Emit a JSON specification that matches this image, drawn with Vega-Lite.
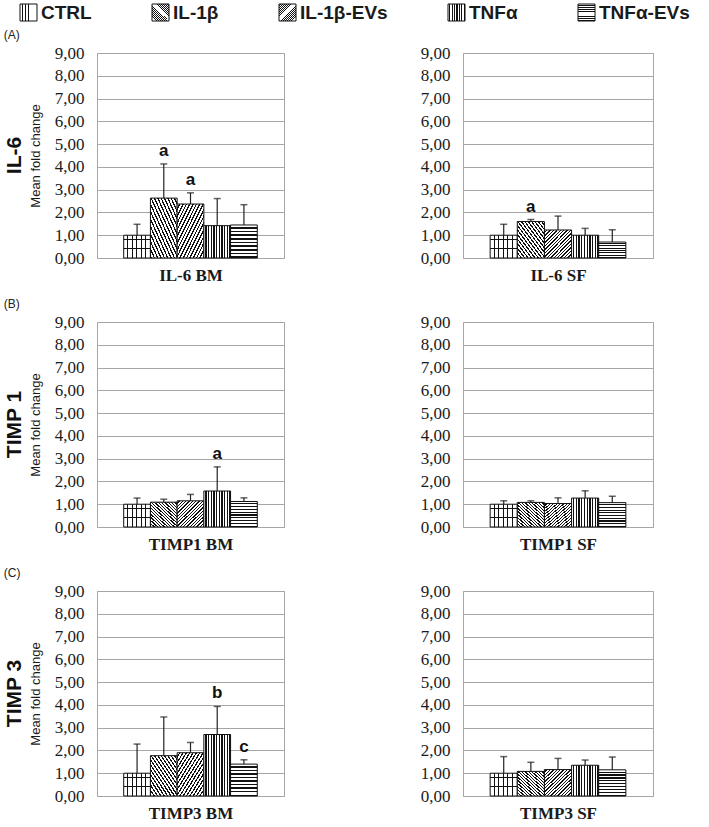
{
  "$schema": "https://vega.github.io/schema/vega-lite/v6.json",
  "padding": {"left": 3, "right": 3, "top": 3, "bottom": 3},
  "background": "white",
  "params": [
    {"name": "pCTRL", "value": {"gradient": "linear", "x1": 0, "y1": 0, "x2": 1, "y2": 0, "stops": [
      {"offset": 0, "color": "#fff"}, {"offset": 0.135, "color": "#fff"}, {"offset": 0.135, "color": "#111"}, {"offset": 0.1667, "color": "#111"},
      {"offset": 0.1667, "color": "#fff"}, {"offset": 0.3017, "color": "#fff"}, {"offset": 0.3017, "color": "#111"}, {"offset": 0.3333, "color": "#111"},
      {"offset": 0.3333, "color": "#fff"}, {"offset": 0.4683, "color": "#fff"}, {"offset": 0.4683, "color": "#111"}, {"offset": 0.5, "color": "#111"},
      {"offset": 0.5, "color": "#fff"}, {"offset": 0.635, "color": "#fff"}, {"offset": 0.635, "color": "#111"}, {"offset": 0.6667, "color": "#111"},
      {"offset": 0.6667, "color": "#fff"}, {"offset": 0.8017, "color": "#fff"}, {"offset": 0.8017, "color": "#111"}, {"offset": 0.8333, "color": "#111"},
      {"offset": 0.8333, "color": "#fff"}, {"offset": 1, "color": "#fff"}]}},
    {"name": "pGRID", "value": {"gradient": "linear", "x1": 0, "y1": 0, "x2": 0, "y2": 1, "stops": [
      {"offset": 0, "color": "rgba(0,0,0,0)"}, {"offset": 0.165, "color": "rgba(0,0,0,0)"}, {"offset": 0.165, "color": "#111"}, {"offset": 0.2, "color": "#111"},
      {"offset": 0.2, "color": "rgba(0,0,0,0)"}, {"offset": 0.365, "color": "rgba(0,0,0,0)"}, {"offset": 0.365, "color": "#111"}, {"offset": 0.4, "color": "#111"},
      {"offset": 0.4, "color": "rgba(0,0,0,0)"}, {"offset": 0.565, "color": "rgba(0,0,0,0)"}, {"offset": 0.565, "color": "#111"}, {"offset": 0.6, "color": "#111"},
      {"offset": 0.6, "color": "rgba(0,0,0,0)"}, {"offset": 0.765, "color": "rgba(0,0,0,0)"}, {"offset": 0.765, "color": "#111"}, {"offset": 0.8, "color": "#111"},
      {"offset": 0.8, "color": "rgba(0,0,0,0)"}, {"offset": 1, "color": "rgba(0,0,0,0)"}]}},
    {"name": "pIL", "value": {"gradient": "linear", "x1": 1, "y1": 0, "x2": 0, "y2": 1, "stops": [
      {"offset": 0, "color": "#fff"}, {"offset": 0.037, "color": "#fff"}, {"offset": 0.037, "color": "#111"}, {"offset": 0.0625, "color": "#111"},
      {"offset": 0.0625, "color": "#fff"}, {"offset": 0.0995, "color": "#fff"}, {"offset": 0.0995, "color": "#111"}, {"offset": 0.125, "color": "#111"},
      {"offset": 0.125, "color": "#fff"}, {"offset": 0.162, "color": "#fff"}, {"offset": 0.162, "color": "#111"}, {"offset": 0.1875, "color": "#111"},
      {"offset": 0.1875, "color": "#fff"}, {"offset": 0.2245, "color": "#fff"}, {"offset": 0.2245, "color": "#111"}, {"offset": 0.25, "color": "#111"},
      {"offset": 0.25, "color": "#fff"}, {"offset": 0.287, "color": "#fff"}, {"offset": 0.287, "color": "#111"}, {"offset": 0.3125, "color": "#111"},
      {"offset": 0.3125, "color": "#fff"}, {"offset": 0.3495, "color": "#fff"}, {"offset": 0.3495, "color": "#111"}, {"offset": 0.375, "color": "#111"},
      {"offset": 0.375, "color": "#fff"}, {"offset": 0.412, "color": "#fff"}, {"offset": 0.412, "color": "#111"}, {"offset": 0.4375, "color": "#111"},
      {"offset": 0.4375, "color": "#fff"}, {"offset": 0.4745, "color": "#fff"}, {"offset": 0.4745, "color": "#111"}, {"offset": 0.5, "color": "#111"},
      {"offset": 0.5, "color": "#fff"}, {"offset": 0.537, "color": "#fff"}, {"offset": 0.537, "color": "#111"}, {"offset": 0.5625, "color": "#111"},
      {"offset": 0.5625, "color": "#fff"}, {"offset": 0.5995, "color": "#fff"}, {"offset": 0.5995, "color": "#111"}, {"offset": 0.625, "color": "#111"},
      {"offset": 0.625, "color": "#fff"}, {"offset": 0.662, "color": "#fff"}, {"offset": 0.662, "color": "#111"}, {"offset": 0.6875, "color": "#111"},
      {"offset": 0.6875, "color": "#fff"}, {"offset": 0.7245, "color": "#fff"}, {"offset": 0.7245, "color": "#111"}, {"offset": 0.75, "color": "#111"},
      {"offset": 0.75, "color": "#fff"}, {"offset": 0.787, "color": "#fff"}, {"offset": 0.787, "color": "#111"}, {"offset": 0.8125, "color": "#111"},
      {"offset": 0.8125, "color": "#fff"}, {"offset": 0.8495, "color": "#fff"}, {"offset": 0.8495, "color": "#111"}, {"offset": 0.875, "color": "#111"},
      {"offset": 0.875, "color": "#fff"}, {"offset": 0.912, "color": "#fff"}, {"offset": 0.912, "color": "#111"}, {"offset": 0.9375, "color": "#111"},
      {"offset": 0.9375, "color": "#fff"}, {"offset": 0.9745, "color": "#fff"}, {"offset": 0.9745, "color": "#111"}, {"offset": 1, "color": "#111"}]}},
    {"name": "pILEV", "value": {"gradient": "linear", "x1": 0, "y1": 0, "x2": 1, "y2": 1, "stops": [
      {"offset": 0, "color": "#fff"}, {"offset": 0.037, "color": "#fff"}, {"offset": 0.037, "color": "#111"}, {"offset": 0.0625, "color": "#111"},
      {"offset": 0.0625, "color": "#fff"}, {"offset": 0.0995, "color": "#fff"}, {"offset": 0.0995, "color": "#111"}, {"offset": 0.125, "color": "#111"},
      {"offset": 0.125, "color": "#fff"}, {"offset": 0.162, "color": "#fff"}, {"offset": 0.162, "color": "#111"}, {"offset": 0.1875, "color": "#111"},
      {"offset": 0.1875, "color": "#fff"}, {"offset": 0.2245, "color": "#fff"}, {"offset": 0.2245, "color": "#111"}, {"offset": 0.25, "color": "#111"},
      {"offset": 0.25, "color": "#fff"}, {"offset": 0.287, "color": "#fff"}, {"offset": 0.287, "color": "#111"}, {"offset": 0.3125, "color": "#111"},
      {"offset": 0.3125, "color": "#fff"}, {"offset": 0.3495, "color": "#fff"}, {"offset": 0.3495, "color": "#111"}, {"offset": 0.375, "color": "#111"},
      {"offset": 0.375, "color": "#fff"}, {"offset": 0.412, "color": "#fff"}, {"offset": 0.412, "color": "#111"}, {"offset": 0.4375, "color": "#111"},
      {"offset": 0.4375, "color": "#fff"}, {"offset": 0.4745, "color": "#fff"}, {"offset": 0.4745, "color": "#111"}, {"offset": 0.5, "color": "#111"},
      {"offset": 0.5, "color": "#fff"}, {"offset": 0.537, "color": "#fff"}, {"offset": 0.537, "color": "#111"}, {"offset": 0.5625, "color": "#111"},
      {"offset": 0.5625, "color": "#fff"}, {"offset": 0.5995, "color": "#fff"}, {"offset": 0.5995, "color": "#111"}, {"offset": 0.625, "color": "#111"},
      {"offset": 0.625, "color": "#fff"}, {"offset": 0.662, "color": "#fff"}, {"offset": 0.662, "color": "#111"}, {"offset": 0.6875, "color": "#111"},
      {"offset": 0.6875, "color": "#fff"}, {"offset": 0.7245, "color": "#fff"}, {"offset": 0.7245, "color": "#111"}, {"offset": 0.75, "color": "#111"},
      {"offset": 0.75, "color": "#fff"}, {"offset": 0.787, "color": "#fff"}, {"offset": 0.787, "color": "#111"}, {"offset": 0.8125, "color": "#111"},
      {"offset": 0.8125, "color": "#fff"}, {"offset": 0.8495, "color": "#fff"}, {"offset": 0.8495, "color": "#111"}, {"offset": 0.875, "color": "#111"},
      {"offset": 0.875, "color": "#fff"}, {"offset": 0.912, "color": "#fff"}, {"offset": 0.912, "color": "#111"}, {"offset": 0.9375, "color": "#111"},
      {"offset": 0.9375, "color": "#fff"}, {"offset": 0.9745, "color": "#fff"}, {"offset": 0.9745, "color": "#111"}, {"offset": 1, "color": "#111"}]}},
    {"name": "pTNF", "value": {"gradient": "linear", "x1": 0, "y1": 0, "x2": 1, "y2": 0, "stops": [
      {"offset": 0, "color": "#fff"}, {"offset": 0.055, "color": "#fff"}, {"offset": 0.055, "color": "#111"}, {"offset": 0.1, "color": "#111"},
      {"offset": 0.1, "color": "#fff"}, {"offset": 0.155, "color": "#fff"}, {"offset": 0.155, "color": "#111"}, {"offset": 0.2, "color": "#111"},
      {"offset": 0.2, "color": "#fff"}, {"offset": 0.255, "color": "#fff"}, {"offset": 0.255, "color": "#111"}, {"offset": 0.3, "color": "#111"},
      {"offset": 0.3, "color": "#fff"}, {"offset": 0.355, "color": "#fff"}, {"offset": 0.355, "color": "#111"}, {"offset": 0.4, "color": "#111"},
      {"offset": 0.4, "color": "#fff"}, {"offset": 0.455, "color": "#fff"}, {"offset": 0.455, "color": "#111"}, {"offset": 0.5, "color": "#111"},
      {"offset": 0.5, "color": "#fff"}, {"offset": 0.555, "color": "#fff"}, {"offset": 0.555, "color": "#111"}, {"offset": 0.6, "color": "#111"},
      {"offset": 0.6, "color": "#fff"}, {"offset": 0.655, "color": "#fff"}, {"offset": 0.655, "color": "#111"}, {"offset": 0.7, "color": "#111"},
      {"offset": 0.7, "color": "#fff"}, {"offset": 0.755, "color": "#fff"}, {"offset": 0.755, "color": "#111"}, {"offset": 0.8, "color": "#111"},
      {"offset": 0.8, "color": "#fff"}, {"offset": 0.855, "color": "#fff"}, {"offset": 0.855, "color": "#111"}, {"offset": 0.9, "color": "#111"},
      {"offset": 0.9, "color": "#fff"}, {"offset": 0.955, "color": "#fff"}, {"offset": 0.955, "color": "#111"}, {"offset": 1, "color": "#111"}]}},
    {"name": "pTNFEV", "value": {"gradient": "linear", "x1": 0, "y1": 0, "x2": 0, "y2": 1, "stops": [
      {"offset": 0, "color": "#fff"}, {"offset": 0.065, "color": "#fff"}, {"offset": 0.065, "color": "#111"}, {"offset": 0.1111, "color": "#111"},
      {"offset": 0.1111, "color": "#fff"}, {"offset": 0.1761, "color": "#fff"}, {"offset": 0.1761, "color": "#111"}, {"offset": 0.2222, "color": "#111"},
      {"offset": 0.2222, "color": "#fff"}, {"offset": 0.2872, "color": "#fff"}, {"offset": 0.2872, "color": "#111"}, {"offset": 0.3333, "color": "#111"},
      {"offset": 0.3333, "color": "#fff"}, {"offset": 0.3983, "color": "#fff"}, {"offset": 0.3983, "color": "#111"}, {"offset": 0.4444, "color": "#111"},
      {"offset": 0.4444, "color": "#fff"}, {"offset": 0.5094, "color": "#fff"}, {"offset": 0.5094, "color": "#111"}, {"offset": 0.5556, "color": "#111"},
      {"offset": 0.5556, "color": "#fff"}, {"offset": 0.6206, "color": "#fff"}, {"offset": 0.6206, "color": "#111"}, {"offset": 0.6667, "color": "#111"},
      {"offset": 0.6667, "color": "#fff"}, {"offset": 0.7317, "color": "#fff"}, {"offset": 0.7317, "color": "#111"}, {"offset": 0.7778, "color": "#111"},
      {"offset": 0.7778, "color": "#fff"}, {"offset": 0.8428, "color": "#fff"}, {"offset": 0.8428, "color": "#111"}, {"offset": 0.8889, "color": "#111"},
      {"offset": 0.8889, "color": "#fff"}, {"offset": 0.9539, "color": "#fff"}, {"offset": 0.9539, "color": "#111"}, {"offset": 1, "color": "#111"}]}}
  ],
  "datasets": {
    "d": [
      {"panel": "IL-6 BM", "group": "CTRL", "mean": 1.0, "top": 1.48, "letter": ""},
      {"panel": "IL-6 BM", "group": "IL-1β", "mean": 2.63, "top": 4.13, "letter": "a"},
      {"panel": "IL-6 BM", "group": "IL-1β-EVs", "mean": 2.37, "top": 2.86, "letter": "a"},
      {"panel": "IL-6 BM", "group": "TNFα", "mean": 1.42, "top": 2.61, "letter": ""},
      {"panel": "IL-6 BM", "group": "TNFα-EVs", "mean": 1.45, "top": 2.34, "letter": ""},
      {"panel": "IL-6 SF", "group": "CTRL", "mean": 1.0, "top": 1.48, "letter": ""},
      {"panel": "IL-6 SF", "group": "IL-1β", "mean": 1.6, "top": 1.69, "letter": "a"},
      {"panel": "IL-6 SF", "group": "IL-1β-EVs", "mean": 1.23, "top": 1.84, "letter": ""},
      {"panel": "IL-6 SF", "group": "TNFα", "mean": 1.0, "top": 1.3, "letter": ""},
      {"panel": "IL-6 SF", "group": "TNFα-EVs", "mean": 0.7, "top": 1.24, "letter": ""},
      {"panel": "TIMP1 BM", "group": "CTRL", "mean": 1.0, "top": 1.27, "letter": ""},
      {"panel": "TIMP1 BM", "group": "IL-1β", "mean": 1.09, "top": 1.22, "letter": ""},
      {"panel": "TIMP1 BM", "group": "IL-1β-EVs", "mean": 1.15, "top": 1.43, "letter": ""},
      {"panel": "TIMP1 BM", "group": "TNFα", "mean": 1.58, "top": 2.64, "letter": "a"},
      {"panel": "TIMP1 BM", "group": "TNFα-EVs", "mean": 1.12, "top": 1.28, "letter": ""},
      {"panel": "TIMP1 SF", "group": "CTRL", "mean": 1.0, "top": 1.15, "letter": ""},
      {"panel": "TIMP1 SF", "group": "IL-1β", "mean": 1.08, "top": 1.15, "letter": ""},
      {"panel": "TIMP1 SF", "group": "IL-1β-EVs", "mean": 1.03, "top": 1.28, "letter": ""},
      {"panel": "TIMP1 SF", "group": "TNFα", "mean": 1.27, "top": 1.59, "letter": ""},
      {"panel": "TIMP1 SF", "group": "TNFα-EVs", "mean": 1.07, "top": 1.35, "letter": ""},
      {"panel": "TIMP3 BM", "group": "CTRL", "mean": 1.0, "top": 2.28, "letter": ""},
      {"panel": "TIMP3 BM", "group": "IL-1β", "mean": 1.77, "top": 3.47, "letter": ""},
      {"panel": "TIMP3 BM", "group": "IL-1β-EVs", "mean": 1.9, "top": 2.35, "letter": ""},
      {"panel": "TIMP3 BM", "group": "TNFα", "mean": 2.7, "top": 3.93, "letter": "b"},
      {"panel": "TIMP3 BM", "group": "TNFα-EVs", "mean": 1.4, "top": 1.59, "letter": "c"},
      {"panel": "TIMP3 SF", "group": "CTRL", "mean": 1.0, "top": 1.73, "letter": ""},
      {"panel": "TIMP3 SF", "group": "IL-1β", "mean": 1.08, "top": 1.48, "letter": ""},
      {"panel": "TIMP3 SF", "group": "IL-1β-EVs", "mean": 1.16, "top": 1.65, "letter": ""},
      {"panel": "TIMP3 SF", "group": "TNFα", "mean": 1.35, "top": 1.58, "letter": ""},
      {"panel": "TIMP3 SF", "group": "TNFα-EVs", "mean": 1.15, "top": 1.71, "letter": ""}
    ]
  },
  "data": {"name": "d"},
  "spacing": 13,
  "vconcat": [
    {
      "title": {"text": "(A)", "anchor": "start", "font": "Liberation Sans", "fontSize": 12, "fontWeight": "normal", "color": "#222", "offset": 2},
      "spacing": 134,
      "hconcat": [
        {
          "width": 187, "height": 205,
          "title": {"text": "IL-6", "orient": "left", "font": "Liberation Sans", "fontSize": 21, "fontWeight": "bold", "color": "#111", "offset": 4},
          "transform": [{"filter": "datum.panel === 'IL-6 BM'"}],
          "encoding": {"x": {"field": "group", "type": "nominal", "scale": {"paddingInner": 0, "paddingOuter": 1}, "title": "IL-6 BM"}},
          "layer": [
            {"mark": {"type": "bar", "strokeWidth": 1, "fill": {"expr": "(datum.group || datum.value) === 'CTRL' ? pCTRL : (datum.group || datum.value) === 'IL-1β' ? pIL : (datum.group || datum.value) === 'IL-1β-EVs' ? pILEV : (datum.group || datum.value) === 'TNFα' ? pTNF : pTNFEV"}},
             "encoding": {"y": {"field": "mean", "type": "quantitative", "scale": {"domain": [0, 9], "nice": false}, "title": "Mean fold change", "axis": {"values": [0, 1, 2, 3, 4, 5, 6, 7, 8, 9], "tickCount": 10, "labelOverlap": false}},
                          "stroke": {"field": "group", "type": "nominal", "title": null,
                            "scale": {"domain": ["CTRL", "IL-1β", "IL-1β-EVs", "TNFα", "TNFα-EVs"], "range": ["#111", "#111", "#111", "#111", "#111"]},
                            "legend": {"title": null, "orient": "none", "direction": "horizontal", "legendX": -78, "legendY": -50}}}},
            {"transform": [{"filter": "datum.group === 'CTRL'"}],
             "mark": {"type": "bar", "strokeWidth": 0, "fill": {"expr": "pGRID"}},
             "encoding": {"y": {"field": "mean", "type": "quantitative", "scale": {"domain": [0, 9], "nice": false}, "title": "Mean fold change", "axis": {"values": [0, 1, 2, 3, 4, 5, 6, 7, 8, 9], "tickCount": 10, "labelOverlap": false}}}},
            {"mark": {"type": "rule", "color": "#222", "strokeWidth": 1.2},
             "encoding": {"y": {"field": "mean", "type": "quantitative", "scale": {"domain": [0, 9], "nice": false}, "title": "Mean fold change", "axis": {"values": [0, 1, 2, 3, 4, 5, 6, 7, 8, 9], "tickCount": 10, "labelOverlap": false}}, "y2": {"field": "top"}}},
            {"mark": {"type": "tick", "color": "#222", "size": 7, "thickness": 1.5},
             "encoding": {"y": {"field": "top", "type": "quantitative", "scale": {"domain": [0, 9], "nice": false}, "title": "Mean fold change", "axis": {"values": [0, 1, 2, 3, 4, 5, 6, 7, 8, 9], "tickCount": 10, "labelOverlap": false}}}},
            {"mark": {"type": "text", "font": "Liberation Sans", "fontSize": 17, "fontWeight": "bold", "color": "#111", "baseline": "bottom", "dy": -4},
             "encoding": {"y": {"field": "top", "type": "quantitative", "scale": {"domain": [0, 9], "nice": false}, "title": "Mean fold change", "axis": {"values": [0, 1, 2, 3, 4, 5, 6, 7, 8, 9], "tickCount": 10, "labelOverlap": false}}, "text": {"field": "letter"}}}
          ]
        },
        {
          "width": 190, "height": 205,
          "transform": [{"filter": "datum.panel === 'IL-6 SF'"}],
          "encoding": {"x": {"field": "group", "type": "nominal", "scale": {"paddingInner": 0, "paddingOuter": 1}, "title": "IL-6 SF"}},
          "layer": [
            {"mark": {"type": "bar", "strokeWidth": 1, "fill": {"expr": "(datum.group || datum.value) === 'CTRL' ? pCTRL : (datum.group || datum.value) === 'IL-1β' ? pIL : (datum.group || datum.value) === 'IL-1β-EVs' ? pILEV : (datum.group || datum.value) === 'TNFα' ? pTNF : pTNFEV"}},
             "encoding": {"y": {"field": "mean", "type": "quantitative", "scale": {"domain": [0, 9], "nice": false}, "title": null, "axis": {"values": [0, 1, 2, 3, 4, 5, 6, 7, 8, 9], "tickCount": 10, "labelOverlap": false}},
                          "stroke": {"field": "group", "type": "nominal", "title": null}}},
            {"transform": [{"filter": "datum.group === 'CTRL'"}],
             "mark": {"type": "bar", "strokeWidth": 0, "fill": {"expr": "pGRID"}},
             "encoding": {"y": {"field": "mean", "type": "quantitative", "scale": {"domain": [0, 9], "nice": false}, "title": null, "axis": {"values": [0, 1, 2, 3, 4, 5, 6, 7, 8, 9], "tickCount": 10, "labelOverlap": false}}}},
            {"mark": {"type": "rule", "color": "#222", "strokeWidth": 1.2},
             "encoding": {"y": {"field": "mean", "type": "quantitative", "scale": {"domain": [0, 9], "nice": false}, "title": null, "axis": {"values": [0, 1, 2, 3, 4, 5, 6, 7, 8, 9], "tickCount": 10, "labelOverlap": false}}, "y2": {"field": "top"}}},
            {"mark": {"type": "tick", "color": "#222", "size": 7, "thickness": 1.5},
             "encoding": {"y": {"field": "top", "type": "quantitative", "scale": {"domain": [0, 9], "nice": false}, "title": null, "axis": {"values": [0, 1, 2, 3, 4, 5, 6, 7, 8, 9], "tickCount": 10, "labelOverlap": false}}}},
            {"mark": {"type": "text", "font": "Liberation Sans", "fontSize": 17, "fontWeight": "bold", "color": "#111", "baseline": "bottom", "dy": -4},
             "encoding": {"y": {"field": "top", "type": "quantitative", "scale": {"domain": [0, 9], "nice": false}, "title": null, "axis": {"values": [0, 1, 2, 3, 4, 5, 6, 7, 8, 9], "tickCount": 10, "labelOverlap": false}}, "text": {"field": "letter"}}}
          ]
        }
      ]
    },
    {
      "title": {"text": "(B)", "anchor": "start", "font": "Liberation Sans", "fontSize": 12, "fontWeight": "normal", "color": "#222", "offset": 2},
      "spacing": 134,
      "hconcat": [
        {
          "width": 187, "height": 205,
          "title": {"text": "TIMP 1", "orient": "left", "font": "Liberation Sans", "fontSize": 21, "fontWeight": "bold", "color": "#111", "offset": 4},
          "transform": [{"filter": "datum.panel === 'TIMP1 BM'"}],
          "encoding": {"x": {"field": "group", "type": "nominal", "scale": {"paddingInner": 0, "paddingOuter": 1}, "title": "TIMP1 BM"}},
          "layer": [
            {"mark": {"type": "bar", "strokeWidth": 1, "fill": {"expr": "(datum.group || datum.value) === 'CTRL' ? pCTRL : (datum.group || datum.value) === 'IL-1β' ? pIL : (datum.group || datum.value) === 'IL-1β-EVs' ? pILEV : (datum.group || datum.value) === 'TNFα' ? pTNF : pTNFEV"}},
             "encoding": {"y": {"field": "mean", "type": "quantitative", "scale": {"domain": [0, 9], "nice": false}, "title": "Mean fold change", "axis": {"values": [0, 1, 2, 3, 4, 5, 6, 7, 8, 9], "tickCount": 10, "labelOverlap": false}},
                          "stroke": {"field": "group", "type": "nominal", "title": null}}},
            {"transform": [{"filter": "datum.group === 'CTRL'"}],
             "mark": {"type": "bar", "strokeWidth": 0, "fill": {"expr": "pGRID"}},
             "encoding": {"y": {"field": "mean", "type": "quantitative", "scale": {"domain": [0, 9], "nice": false}, "title": "Mean fold change", "axis": {"values": [0, 1, 2, 3, 4, 5, 6, 7, 8, 9], "tickCount": 10, "labelOverlap": false}}}},
            {"mark": {"type": "rule", "color": "#222", "strokeWidth": 1.2},
             "encoding": {"y": {"field": "mean", "type": "quantitative", "scale": {"domain": [0, 9], "nice": false}, "title": "Mean fold change", "axis": {"values": [0, 1, 2, 3, 4, 5, 6, 7, 8, 9], "tickCount": 10, "labelOverlap": false}}, "y2": {"field": "top"}}},
            {"mark": {"type": "tick", "color": "#222", "size": 7, "thickness": 1.5},
             "encoding": {"y": {"field": "top", "type": "quantitative", "scale": {"domain": [0, 9], "nice": false}, "title": "Mean fold change", "axis": {"values": [0, 1, 2, 3, 4, 5, 6, 7, 8, 9], "tickCount": 10, "labelOverlap": false}}}},
            {"mark": {"type": "text", "font": "Liberation Sans", "fontSize": 17, "fontWeight": "bold", "color": "#111", "baseline": "bottom", "dy": -4},
             "encoding": {"y": {"field": "top", "type": "quantitative", "scale": {"domain": [0, 9], "nice": false}, "title": "Mean fold change", "axis": {"values": [0, 1, 2, 3, 4, 5, 6, 7, 8, 9], "tickCount": 10, "labelOverlap": false}}, "text": {"field": "letter"}}}
          ]
        },
        {
          "width": 190, "height": 205,
          "transform": [{"filter": "datum.panel === 'TIMP1 SF'"}],
          "encoding": {"x": {"field": "group", "type": "nominal", "scale": {"paddingInner": 0, "paddingOuter": 1}, "title": "TIMP1 SF"}},
          "layer": [
            {"mark": {"type": "bar", "strokeWidth": 1, "fill": {"expr": "(datum.group || datum.value) === 'CTRL' ? pCTRL : (datum.group || datum.value) === 'IL-1β' ? pIL : (datum.group || datum.value) === 'IL-1β-EVs' ? pILEV : (datum.group || datum.value) === 'TNFα' ? pTNF : pTNFEV"}},
             "encoding": {"y": {"field": "mean", "type": "quantitative", "scale": {"domain": [0, 9], "nice": false}, "title": null, "axis": {"values": [0, 1, 2, 3, 4, 5, 6, 7, 8, 9], "tickCount": 10, "labelOverlap": false}},
                          "stroke": {"field": "group", "type": "nominal", "title": null}}},
            {"transform": [{"filter": "datum.group === 'CTRL'"}],
             "mark": {"type": "bar", "strokeWidth": 0, "fill": {"expr": "pGRID"}},
             "encoding": {"y": {"field": "mean", "type": "quantitative", "scale": {"domain": [0, 9], "nice": false}, "title": null, "axis": {"values": [0, 1, 2, 3, 4, 5, 6, 7, 8, 9], "tickCount": 10, "labelOverlap": false}}}},
            {"mark": {"type": "rule", "color": "#222", "strokeWidth": 1.2},
             "encoding": {"y": {"field": "mean", "type": "quantitative", "scale": {"domain": [0, 9], "nice": false}, "title": null, "axis": {"values": [0, 1, 2, 3, 4, 5, 6, 7, 8, 9], "tickCount": 10, "labelOverlap": false}}, "y2": {"field": "top"}}},
            {"mark": {"type": "tick", "color": "#222", "size": 7, "thickness": 1.5},
             "encoding": {"y": {"field": "top", "type": "quantitative", "scale": {"domain": [0, 9], "nice": false}, "title": null, "axis": {"values": [0, 1, 2, 3, 4, 5, 6, 7, 8, 9], "tickCount": 10, "labelOverlap": false}}}},
            {"mark": {"type": "text", "font": "Liberation Sans", "fontSize": 17, "fontWeight": "bold", "color": "#111", "baseline": "bottom", "dy": -4},
             "encoding": {"y": {"field": "top", "type": "quantitative", "scale": {"domain": [0, 9], "nice": false}, "title": null, "axis": {"values": [0, 1, 2, 3, 4, 5, 6, 7, 8, 9], "tickCount": 10, "labelOverlap": false}}, "text": {"field": "letter"}}}
          ]
        }
      ]
    },
    {
      "title": {"text": "(C)", "anchor": "start", "font": "Liberation Sans", "fontSize": 12, "fontWeight": "normal", "color": "#222", "offset": 2},
      "spacing": 134,
      "hconcat": [
        {
          "width": 187, "height": 205,
          "title": {"text": "TIMP 3", "orient": "left", "font": "Liberation Sans", "fontSize": 21, "fontWeight": "bold", "color": "#111", "offset": 4},
          "transform": [{"filter": "datum.panel === 'TIMP3 BM'"}],
          "encoding": {"x": {"field": "group", "type": "nominal", "scale": {"paddingInner": 0, "paddingOuter": 1}, "title": "TIMP3 BM"}},
          "layer": [
            {"mark": {"type": "bar", "strokeWidth": 1, "fill": {"expr": "(datum.group || datum.value) === 'CTRL' ? pCTRL : (datum.group || datum.value) === 'IL-1β' ? pIL : (datum.group || datum.value) === 'IL-1β-EVs' ? pILEV : (datum.group || datum.value) === 'TNFα' ? pTNF : pTNFEV"}},
             "encoding": {"y": {"field": "mean", "type": "quantitative", "scale": {"domain": [0, 9], "nice": false}, "title": "Mean fold change", "axis": {"values": [0, 1, 2, 3, 4, 5, 6, 7, 8, 9], "tickCount": 10, "labelOverlap": false}},
                          "stroke": {"field": "group", "type": "nominal", "title": null}}},
            {"transform": [{"filter": "datum.group === 'CTRL'"}],
             "mark": {"type": "bar", "strokeWidth": 0, "fill": {"expr": "pGRID"}},
             "encoding": {"y": {"field": "mean", "type": "quantitative", "scale": {"domain": [0, 9], "nice": false}, "title": "Mean fold change", "axis": {"values": [0, 1, 2, 3, 4, 5, 6, 7, 8, 9], "tickCount": 10, "labelOverlap": false}}}},
            {"mark": {"type": "rule", "color": "#222", "strokeWidth": 1.2},
             "encoding": {"y": {"field": "mean", "type": "quantitative", "scale": {"domain": [0, 9], "nice": false}, "title": "Mean fold change", "axis": {"values": [0, 1, 2, 3, 4, 5, 6, 7, 8, 9], "tickCount": 10, "labelOverlap": false}}, "y2": {"field": "top"}}},
            {"mark": {"type": "tick", "color": "#222", "size": 7, "thickness": 1.5},
             "encoding": {"y": {"field": "top", "type": "quantitative", "scale": {"domain": [0, 9], "nice": false}, "title": "Mean fold change", "axis": {"values": [0, 1, 2, 3, 4, 5, 6, 7, 8, 9], "tickCount": 10, "labelOverlap": false}}}},
            {"mark": {"type": "text", "font": "Liberation Sans", "fontSize": 17, "fontWeight": "bold", "color": "#111", "baseline": "bottom", "dy": -4},
             "encoding": {"y": {"field": "top", "type": "quantitative", "scale": {"domain": [0, 9], "nice": false}, "title": "Mean fold change", "axis": {"values": [0, 1, 2, 3, 4, 5, 6, 7, 8, 9], "tickCount": 10, "labelOverlap": false}}, "text": {"field": "letter"}}}
          ]
        },
        {
          "width": 190, "height": 205,
          "transform": [{"filter": "datum.panel === 'TIMP3 SF'"}],
          "encoding": {"x": {"field": "group", "type": "nominal", "scale": {"paddingInner": 0, "paddingOuter": 1}, "title": "TIMP3 SF"}},
          "layer": [
            {"mark": {"type": "bar", "strokeWidth": 1, "fill": {"expr": "(datum.group || datum.value) === 'CTRL' ? pCTRL : (datum.group || datum.value) === 'IL-1β' ? pIL : (datum.group || datum.value) === 'IL-1β-EVs' ? pILEV : (datum.group || datum.value) === 'TNFα' ? pTNF : pTNFEV"}},
             "encoding": {"y": {"field": "mean", "type": "quantitative", "scale": {"domain": [0, 9], "nice": false}, "title": null, "axis": {"values": [0, 1, 2, 3, 4, 5, 6, 7, 8, 9], "tickCount": 10, "labelOverlap": false}},
                          "stroke": {"field": "group", "type": "nominal", "title": null}}},
            {"transform": [{"filter": "datum.group === 'CTRL'"}],
             "mark": {"type": "bar", "strokeWidth": 0, "fill": {"expr": "pGRID"}},
             "encoding": {"y": {"field": "mean", "type": "quantitative", "scale": {"domain": [0, 9], "nice": false}, "title": null, "axis": {"values": [0, 1, 2, 3, 4, 5, 6, 7, 8, 9], "tickCount": 10, "labelOverlap": false}}}},
            {"mark": {"type": "rule", "color": "#222", "strokeWidth": 1.2},
             "encoding": {"y": {"field": "mean", "type": "quantitative", "scale": {"domain": [0, 9], "nice": false}, "title": null, "axis": {"values": [0, 1, 2, 3, 4, 5, 6, 7, 8, 9], "tickCount": 10, "labelOverlap": false}}, "y2": {"field": "top"}}},
            {"mark": {"type": "tick", "color": "#222", "size": 7, "thickness": 1.5},
             "encoding": {"y": {"field": "top", "type": "quantitative", "scale": {"domain": [0, 9], "nice": false}, "title": null, "axis": {"values": [0, 1, 2, 3, 4, 5, 6, 7, 8, 9], "tickCount": 10, "labelOverlap": false}}}},
            {"mark": {"type": "text", "font": "Liberation Sans", "fontSize": 17, "fontWeight": "bold", "color": "#111", "baseline": "bottom", "dy": -4},
             "encoding": {"y": {"field": "top", "type": "quantitative", "scale": {"domain": [0, 9], "nice": false}, "title": null, "axis": {"values": [0, 1, 2, 3, 4, 5, 6, 7, 8, 9], "tickCount": 10, "labelOverlap": false}}, "text": {"field": "letter"}}}
          ]
        }
      ]
    }
  ],
  "config": {
    "font": "Liberation Sans",
    "view": {"stroke": "#a6a6a6", "strokeWidth": 1},
    "axisY": {
      "tickCount": 10,
      "labelExpr": "replace(format(datum.value, '.2f'), '.', ',')",
      "labelFont": "Liberation Serif", "labelFontSize": 17, "labelColor": "#1a1a1a",
      "domain": false, "ticks": false, "gridColor": "#a6a6a6", "gridWidth": 1.2, "labelPadding": 13,
      "titleFont": "Liberation Sans", "titleFontWeight": "normal", "titleFontSize": 13, "titleColor": "#1a1a1a", "titlePadding": 12
    },
    "axisX": {
      "labels": false, "ticks": false, "domain": false, "grid": false,
      "titleFont": "Liberation Serif", "titleFontWeight": "bold", "titleFontSize": 17, "titleColor": "#1a1a1a", "titlePadding": 9
    },
    "legend": {
      "labelFont": "Liberation Sans", "labelFontSize": 19, "labelFontWeight": "bold", "labelColor": "#1a1a1a",
      "symbolType": "square", "symbolSize": 289, "symbolStrokeWidth": 1,
      "columnPadding": 58, "labelOffset": 3, "labelLimit": 200
    }
  }
}
